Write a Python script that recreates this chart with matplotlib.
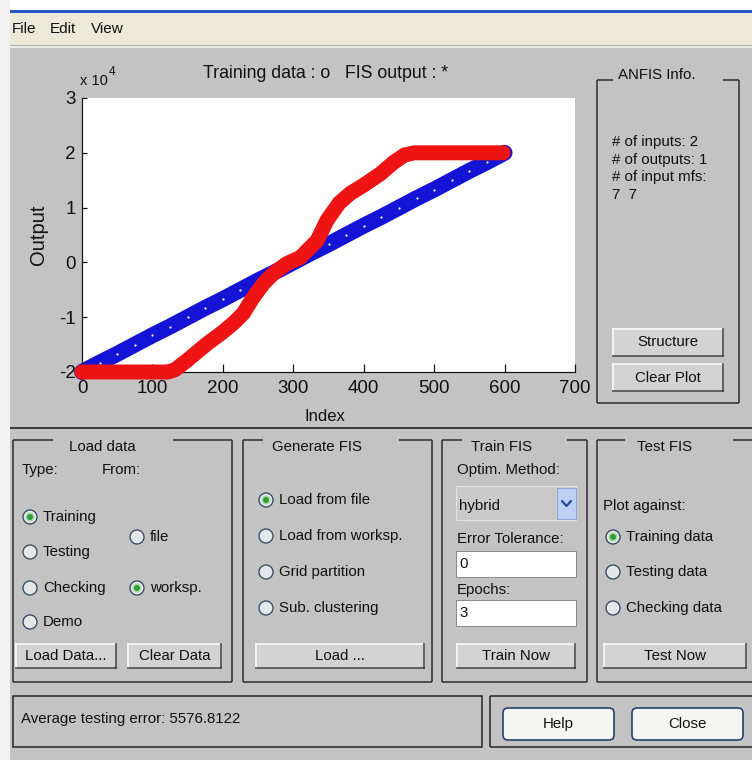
import matplotlib
matplotlib.use('Agg')
import matplotlib.pyplot as plt
from matplotlib.patches import Rectangle, Circle, FancyBboxPatch

FONT = ['Liberation Sans', 'DejaVu Sans']

# ---------------- data ----------------
train_index = [0, 25, 50, 75, 100, 125, 150, 175, 200, 225, 250, 275, 300,
               325, 350, 375, 400, 425, 450, 475, 500, 525, 550, 575, 600]
train_output = [-20000, -18300, -16700, -15000, -13300, -11700, -10000, -8300,
                -6700, -5000, -3300, -1700, 0, 1700, 3300, 5000, 6700, 8300,
                10000, 11700, 13300, 15000, 16700, 18300, 20000]

fis_index = [0, 50, 100, 122, 132, 149, 178, 199, 215, 229, 243, 258, 272,
             291, 310, 320, 334, 348, 365, 381, 400, 424, 442, 458, 472, 540, 598]
fis_output = [-20000, -20000, -20000, -20000, -19600, -17900, -14800, -12800,
              -11100, -9300, -6400, -3800, -2000, -200, 900, 2200, 4000, 7700,
              10800, 12600, 14100, 16200, 18200, 19600, 20000, 20000, 20000]

x_ticks = [0, 100, 200, 300, 400, 500, 600, 700]
x_tick_labels = ['0', '100', '200', '300', '400', '500', '600', '700']
y_tick_values = [-2, -1, 0, 1, 2, 3]
y_tick_labels = ['-2', '-1', '0', '1', '2', '3']
y_scale = 1e4

plot_title = 'Training data : o   FIS output : *'
x_label = 'Index'
y_label = 'Output'

anfis_info = ['# of inputs: 2', '# of outputs: 1', '# of input mfs:', '7  7']
load_types = ['Training', 'Testing', 'Checking', 'Demo']
load_from = ['file', 'worksp.']
gen_options = ['Load from file', 'Load from worksp.', 'Grid partition', 'Sub. clustering']
test_options = ['Training data', 'Testing data', 'Checking data']
status_text = 'Average testing error: 5576.8122'

# ---------------- figure ----------------
W, H = 752, 760
BG = '#c3c3c3'
FS = 10.8
fig = plt.figure(figsize=(W / 100, H / 100), dpi=100, facecolor=BG)
bg = fig.add_axes([0, 0, 1, 1], zorder=0)
bg.set_xlim(0, W)
bg.set_ylim(H, 0)
bg.axis('off')


def px(n):
    return n * 72.0 / 100.0


def txt(x, y, s, size=FS, ha='left', **kw):
    bg.text(x, y, s, ha=ha, va='center', fontsize=size, family=FONT,
            color='#111111', **kw)


def hline(x0, x1, y, color='#2a2a2a', lw=1.5):
    bg.plot([x0, x1], [y, y], color=color, lw=px(lw), solid_capstyle='butt')


def vline(x, y0, y1, color='#2a2a2a', lw=1.5):
    bg.plot([x, x], [y0, y1], color=color, lw=px(lw), solid_capstyle='butt')


def frame(x0, x1, y0, y1, title, tx, ty, g0, g1):
    vline(x0, y0, y1)
    vline(x1, y0, y1)
    hline(x0, x1, y1)
    hline(x0, g0, y0)
    hline(g1, x1, y0)
    txt(tx, ty, title, ha='center')


def button(x0, y0, x1, y1, label):
    bg.add_patch(Rectangle((x0, y0), x1 - x0, y1 - y0, fc='#d3d3d3', ec='none'))
    hline(x0, x1, y0 + 0.7, color='#fbfbfb', lw=1.5)
    vline(x0 + 0.7, y0, y1, color='#fbfbfb', lw=1.5)
    hline(x0, x1, y1 - 0.7, color='#404040', lw=1.5)
    vline(x1 - 0.7, y0, y1, color='#404040', lw=1.5)
    txt((x0 + x1) / 2, (y0 + y1) / 2, label, ha='center')


def xp_button(x0, y0, x1, y1, label):
    bg.add_patch(FancyBboxPatch((x0, y0), x1 - x0, y1 - y0,
                                boxstyle='round,pad=0,rounding_size=5',
                                fc='#f5f5f1', ec='#1f3b66', lw=px(1.6)))
    txt((x0 + x1) / 2, (y0 + y1) / 2, label, ha='center')


def radio(cx, cy, label, selected=False):
    bg.add_patch(Circle((cx, cy), 7, fc='#e3e7ea', ec='#34465e', lw=px(1.3)))
    if selected:
        bg.add_patch(Circle((cx, cy), 4.5, fc='#a9dca9', ec='none'))
        bg.add_patch(Circle((cx, cy), 3.0, fc='#2f9f35', ec='none'))
    txt(cx + 13, cy, label)


def editbox(x0, y0, x1, y1, s):
    bg.add_patch(Rectangle((x0, y0), x1 - x0, y1 - y0, fc='white', ec='#8a8a8a', lw=px(1)))
    txt(x0 + 3, (y0 + y1) / 2, s)


# window chrome
bg.add_patch(Rectangle((0, 0), W, 10, fc='white', ec='none'))
bg.add_patch(Rectangle((0, 0), 10, H, fc='#f2f2f2', ec='none'))
bg.add_patch(Rectangle((10, 10), W - 10, 3, fc='#2657c9', ec='none'))
bg.add_patch(Rectangle((10, 13), W - 10, 32, fc='#ece9d8', ec='none'))
hline(10, W, 45, color='#a9a9a9', lw=1)
hline(10, W, 46.5, color='#f7f7f7', lw=1.5)
txt(12, 29, 'File', size=11)
txt(50, 29, 'Edit', size=11)
txt(91, 29, 'View', size=11)

# ---------------- the plot ----------------
ax = fig.add_axes([82 / W, 1 - 372 / H, 493 / W, 274 / H], zorder=2)
ax.set_facecolor('white')
ax.plot(train_index, train_output, '-', color='#1414d6', lw=px(16),
        solid_capstyle='round', clip_on=False, zorder=2)
ax.plot(train_index, train_output, linestyle='none', marker='o', ms=px(2.2),
        mfc='white', mec='none', clip_on=False, zorder=3)
ax.plot(fis_index, fis_output, '-', color='#ee1414', lw=px(15),
        solid_capstyle='round', solid_joinstyle='round', clip_on=False, zorder=4)
ax.set_xlim(0, 700)
ax.set_ylim(-2e4, 3e4)
ax.set_xticks(x_ticks)
ax.set_xticklabels(x_tick_labels)
ax.set_yticks([v * y_scale for v in y_tick_values])
ax.set_yticklabels(y_tick_labels)
for s in ['top', 'right']:
    ax.spines[s].set_visible(False)
for s in ['left', 'bottom']:
    ax.spines[s].set_linewidth(px(1.2))
    ax.spines[s].set_color('#111111')
ax.tick_params(axis='x', direction='in', length=px(8), width=px(1.2), pad=6,
               labelsize=13.5, colors='#111111')
ax.tick_params(axis='y', direction='in', length=px(5), width=px(1.2), pad=4.5,
               labelsize=13.5, colors='#111111')
for lab in ax.get_xticklabels() + ax.get_yticklabels():
    lab.set_family(FONT)
ax.set_xlabel(x_label, fontsize=12, family=FONT, color='#111111')
ax.xaxis.set_label_coords((325 - 82) / 493, -(409 - 372) / 274)
ax.set_ylabel(y_label, fontsize=14.5, family=FONT, color='#111111')
ax.yaxis.set_label_coords(-(82 - 48) / 493, 0.5)
ax.set_title(plot_title, x=(326 - 82) / 493, y=(372 - 74) / 274, va='center',
             pad=0, fontsize=12.8, family=FONT, color='#111111')
ax.text(-(82 - 80) / 493, (372 - 81) / 274, 'x 10', transform=ax.transAxes,
        ha='left', va='center', fontsize=10.5, family=FONT, color='#111111')
ax.text((109 - 82) / 493, (372 - 72) / 274, '4', transform=ax.transAxes,
        ha='left', va='center', fontsize=8.5, family=FONT, color='#111111')

# ---------------- ANFIS info panel ----------------
frame(597, 739, 80, 403, 'ANFIS Info.', 657, 75, 613, 723)
for i, s in enumerate(anfis_info):
    txt(612, 142 + i * 17.7, s)
button(612, 328, 724, 357, 'Structure')
button(612, 363, 724, 392, 'Clear Plot')

# separator
hline(10, W, 428, color='#1e1e1e', lw=1.6)

# ---------------- lower panels ----------------
frame(13, 232, 440, 682, 'Load data', 102, 447, 53, 173)
txt(22, 470, 'Type:')
txt(102, 470, 'From:')
for i, (s, yy) in enumerate(zip(load_types, [517, 552, 588, 622])):
    radio(30, yy, s, selected=(i == 0))
for i, (s, yy) in enumerate(zip(load_from, [537, 588])):
    radio(137, yy, s, selected=(i == 1))
button(15, 643, 117, 669, 'Load Data...')
button(127, 643, 222, 669, 'Clear Data')

frame(243, 432, 440, 682, 'Generate FIS', 317, 447, 263, 399)
for i, (s, yy) in enumerate(zip(gen_options, [500, 536, 572, 608])):
    radio(266, yy, s, selected=(i == 0))
button(255, 643, 425, 669, 'Load ...')

frame(442, 587, 440, 682, 'Train FIS', 502, 447, 462, 567)
txt(457, 470, 'Optim. Method:')
bg.add_patch(Rectangle((456, 486), 120, 34, fc='#c9c9c9', ec='#e2e2e2', lw=px(1.2)))
txt(459, 506, 'hybrid')
bg.add_patch(Rectangle((557, 488), 19, 31, fc='#bccff4', ec='#8ea8da', lw=px(1)))
bg.plot([562, 566.5, 571], [501, 506, 501], color='#24469a', lw=px(2.2),
        solid_capstyle='round')
txt(457, 539, 'Error Tolerance:')
editbox(456, 551, 576, 577, '0')
txt(457, 590, 'Epochs:')
editbox(456, 600, 576, 626, '3')
button(456, 643, 576, 669, 'Train Now')

# Test FIS (frame runs off the right edge)
vline(597, 440, 682)
hline(597, W, 682)
hline(597, 625, 440)
hline(733, W, 440)
txt(665, 447, 'Test FIS', ha='center')
txt(603, 506, 'Plot against:')
for i, (s, yy) in enumerate(zip(test_options, [537, 572, 608])):
    radio(613, yy, s, selected=(i == 0))
button(603, 643, 747, 669, 'Test Now')

# ---------------- bottom status row ----------------
bg.add_patch(Rectangle((13, 696), 469, 51, fc='none', ec='#222222', lw=px(1.5)))
txt(21, 719, status_text)
hline(490, W, 696, color='#222222')
hline(490, W, 747, color='#222222')
vline(490, 696, 747, color='#222222')
xp_button(503, 708, 614, 740, 'Help')
xp_button(632, 708, 743, 740, 'Close')

fig.savefig('out.png', dpi=100, facecolor=BG)
